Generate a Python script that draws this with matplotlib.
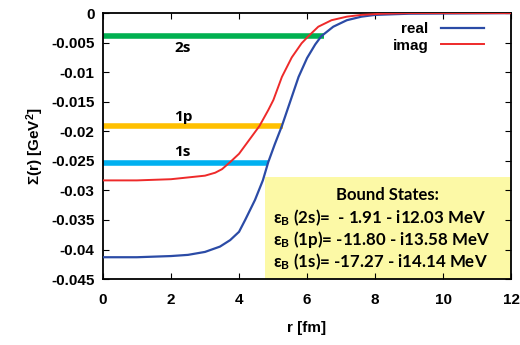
import numpy as np
import matplotlib
matplotlib.use("Agg")
import matplotlib.pyplot as plt
from matplotlib.patches import Rectangle

plt.rcParams.update({"font.family": "Liberation Sans", "font.weight": "bold",
                     "axes.labelweight": "bold", "mathtext.default": "regular"})

# values
r_real = [0, 1, 2, 2.5, 3, 3.44, 3.74, 4.0, 4.18, 4.47, 4.70, 4.86, 5.05, 5.26, 5.52, 5.75, 6.0, 6.24, 6.42,
          6.77, 7.17, 7.6, 8.0, 9.0, 12]
s_real = [-0.0413, -0.0413, -0.0411, -0.0409, -0.0404, -0.0395, -0.0384, -0.0370, -0.0350, -0.0316, -0.0283,
          -0.0252, -0.0222, -0.0191, -0.0147, -0.0108, -0.0076, -0.0053, -0.0039, -0.0023, -0.0012, -0.0006,
          -0.0003, -0.0001, 0.0]
r_imag = [0, 1, 2, 2.5, 3, 3.3, 3.5, 3.74, 4.0, 4.23, 4.60, 4.86, 5.01, 5.26, 5.55, 5.84, 6.04, 6.33, 6.72, 7.17,
          7.6, 8.2, 9.0, 12]
s_imag = [-0.0283, -0.0283, -0.0281, -0.0278, -0.0275, -0.0270, -0.0264, -0.0252, -0.0238, -0.0220, -0.0191,
          -0.0164, -0.0147, -0.0108, -0.0075, -0.0051, -0.0039, -0.0023, -0.0012, -0.0006, -0.0003, -0.0001,
          0.0, 0.0]

levels = ["2s", "1p", "1s"]
level_e = [-0.0039, -0.0191, -0.0253]
level_rmax = [6.5, 5.29, 4.85]
level_col = ["#00b050", "#ffc000", "#00b0f0"]

box_lines = ["Bound States:",
             r"ε$_B$ (2s)=  - 1.91 - i12.03 MeV",
             r"ε$_B$ (1p)= -11.80 - i13.58 MeV",
             r"ε$_B$ (1s)= -17.27 - i14.14 MeV"]

fig = plt.figure(figsize=(5.2, 3.45), dpi=100)
ax = fig.add_axes([0.198, 0.191, 0.785, 0.771])

ax.add_patch(Rectangle((4.76, -0.045), 7.24, 0.0173, facecolor="#fcf9a6", edgecolor="none", zorder=1))

for lab, e, rm, c in zip(levels, level_e, level_rmax, level_col):
    ax.plot([0, rm], [e, e], color=c, lw=4, solid_capstyle="butt", zorder=2)

ax.plot(r_real, s_real, color="#2b4ba6", lw=1.6, label="real", zorder=3)
ax.plot(r_imag, s_imag, color="#ee2a2a", lw=1.4, label="imag", zorder=3)

for lab, yy in zip(levels, [-0.0059, -0.0176, -0.0235]):
    ax.text(2.1, yy, lab, fontsize=11, ha="left", va="center", family="Open Sans", weight="bold")

ax.text(8.35, -0.0308, box_lines[0], fontsize=12, ha="center", va="center", family="Lato", weight="bold")
for i, t in enumerate(box_lines[1:]):
    ax.text(5.0, -0.0347 - i * 0.00365, t, fontsize=12.2, ha="left", va="center", family="Lato", weight="bold")

ax.set_xlim(0, 12)
ax.set_ylim(-0.045, 0)
ax.set_xticks(np.arange(0, 13, 2))
ax.set_yticks([0, -0.005, -0.01, -0.015, -0.02, -0.025, -0.03, -0.035, -0.04, -0.045])
ax.set_yticklabels(["0", "-0.005", "-0.01", "-0.015", "-0.02", "-0.025", "-0.03", "-0.035", "-0.04", "-0.045"])
ax.tick_params(direction="in", top=True, right=True, labelsize=11, length=4)
ax.tick_params(axis="x", pad=10)
ax.tick_params(axis="y", pad=6)
for lbl in ax.get_xticklabels() + ax.get_yticklabels():
    lbl.set_fontweight("bold")
for s in ax.spines.values():
    s.set_linewidth(1.3)
ax.set_xlabel("r [fm]", fontsize=11, labelpad=10, fontweight="bold")
ax.set_ylabel(r"Σ(r) [GeV$^2$]", fontsize=11, labelpad=4, fontweight="bold")

leg = ax.legend(loc="upper right", frameon=False, markerfirst=False, fontsize=11,
                handlelength=2.8, borderaxespad=0.2, labelspacing=0.15, bbox_to_anchor=(0.955, 1.0))
for t in leg.get_texts():
    t.set_fontweight("bold")

fig.savefig("out.png", dpi=100)
